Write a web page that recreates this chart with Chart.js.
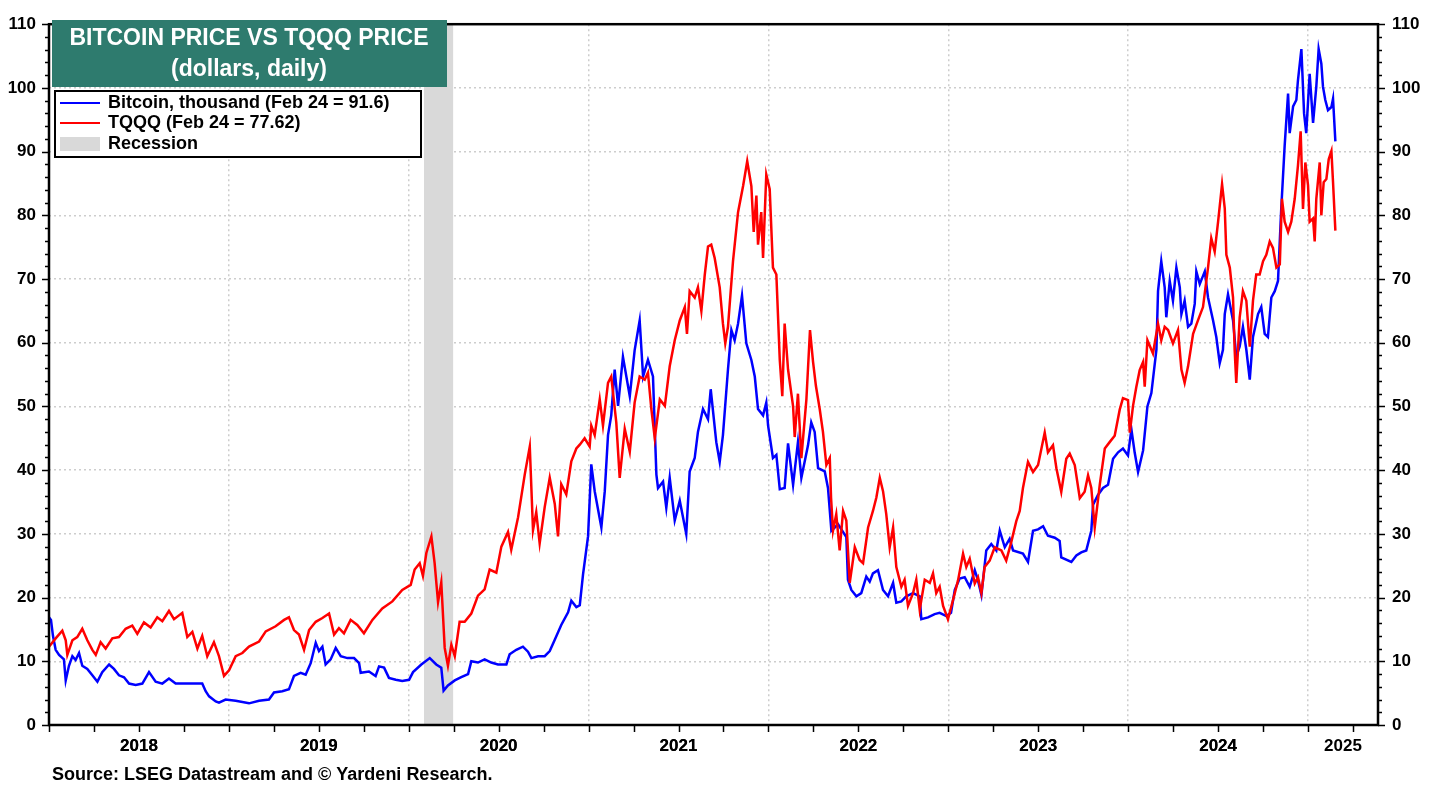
<!DOCTYPE html>
<html>
<head>
<meta charset="utf-8">
<script src="https://cdn.jsdelivr.net/npm/chart.js@4.4.1/dist/chart.umd.min.js"></script>
<style>
  html, body { margin: 0; padding: 0; background: #fff; }
  #wrap { width: 1439px; height: 789px; }
</style>
</head>
<body>
<div id="wrap"><canvas id="chart" width="1439" height="789"></canvas></div>
<script>
// dates are decimal years, values in dollars (bitcoin in thousands)
var btcDates = [
  2018.000, 2018.011, 2018.022, 2018.037, 2018.056, 2018.083, 2018.093, 2018.111, 2018.130, 2018.148, 2018.167, 2018.185, 2018.213, 2018.241, 2018.269, 2018.296, 2018.334, 2018.361, 2018.389, 2018.417, 2018.445, 2018.482, 2018.519, 2018.556, 2018.593, 2018.630, 2018.667, 2018.704, 2018.778, 2018.852, 2018.871, 2018.890, 2018.927, 2018.945, 2018.982,
  2019.038, 2019.112, 2019.168, 2019.223, 2019.251, 2019.297, 2019.334, 2019.362, 2019.399, 2019.427, 2019.455, 2019.483, 2019.501, 2019.520, 2019.538, 2019.566, 2019.594, 2019.622, 2019.659, 2019.696, 2019.724, 2019.733, 2019.779, 2019.816, 2019.835, 2019.863, 2019.890, 2019.928, 2019.964,
  2020.002, 2020.024, 2020.070, 2020.117, 2020.153, 2020.181, 2020.194, 2020.218, 2020.256, 2020.292, 2020.330, 2020.348, 2020.385, 2020.422, 2020.459, 2020.496, 2020.543, 2020.561, 2020.598, 2020.635, 2020.663, 2020.682, 2020.719, 2020.756, 2020.784, 2020.812, 2020.848, 2020.886, 2020.904, 2020.932, 2020.951, 2020.969, 2020.997,
  2021.015, 2021.034, 2021.071, 2021.090, 2021.108, 2021.126, 2021.145, 2021.164, 2021.191, 2021.229, 2021.256, 2021.284, 2021.303, 2021.330, 2021.358, 2021.368, 2021.377, 2021.386, 2021.414, 2021.432, 2021.451, 2021.479, 2021.507, 2021.543, 2021.562, 2021.590, 2021.608, 2021.636, 2021.664, 2021.679, 2021.710, 2021.729, 2021.747, 2021.775, 2021.794, 2021.812, 2021.831, 2021.853, 2021.877, 2021.905, 2021.924, 2021.942, 2021.970, 2021.988,
  2021.998, 2022.025, 2022.044, 2022.063, 2022.090, 2022.109, 2022.137, 2022.164, 2022.183, 2022.220, 2022.238, 2022.257, 2022.276, 2022.313, 2022.331, 2022.350, 2022.387, 2022.433, 2022.442, 2022.461, 2022.489, 2022.516, 2022.544, 2022.563, 2022.581, 2022.609, 2022.637, 2022.665, 2022.693, 2022.711, 2022.739, 2022.766, 2022.804, 2022.841, 2022.850, 2022.887, 2022.924, 2022.952, 2022.989,
  2023.015, 2023.036, 2023.063, 2023.091, 2023.119, 2023.147, 2023.165, 2023.184, 2023.211, 2023.239, 2023.267, 2023.286, 2023.314, 2023.341, 2023.360, 2023.415, 2023.443, 2023.471, 2023.499, 2023.527, 2023.554, 2023.592, 2023.619, 2023.628, 2023.684, 2023.712, 2023.739, 2023.767, 2023.795, 2023.805, 2023.832, 2023.860, 2023.888, 2023.916, 2023.944, 2023.971,
  2023.999, 2024.018, 2024.036, 2024.055, 2024.083, 2024.107, 2024.129, 2024.157, 2024.166, 2024.184, 2024.203, 2024.212, 2024.231, 2024.249, 2024.268, 2024.287, 2024.296, 2024.314, 2024.333, 2024.351, 2024.370, 2024.379, 2024.398, 2024.426, 2024.444, 2024.472, 2024.490, 2024.509, 2024.527, 2024.537, 2024.555, 2024.583, 2024.601, 2024.620, 2024.638, 2024.657, 2024.676, 2024.694, 2024.722, 2024.740, 2024.759, 2024.777, 2024.796, 2024.815, 2024.833, 2024.851, 2024.870, 2024.889, 2024.898, 2024.917, 2024.935, 2024.944, 2024.963, 2024.978, 2024.990, 2025.009, 2025.028, 2025.046, 2025.059, 2025.074, 2025.083, 2025.096, 2025.111, 2025.130, 2025.139, 2025.152
];
var btcValues = [
  16.9, 16.5, 14.0, 11.8, 11.0, 10.3, 7.0, 9.3, 10.8, 10.2, 11.3, 9.3, 8.8, 7.8, 6.8, 8.3, 9.5, 8.8, 7.8, 7.5, 6.5, 6.3, 6.5, 8.3, 6.8, 6.5, 7.3, 6.5, 6.5, 6.5, 5.3, 4.5, 3.7, 3.5, 4.0,
  3.8, 3.4, 3.8, 4.0, 5.1, 5.3, 5.6, 7.7, 8.2, 7.9, 9.7, 12.9, 11.6, 12.3, 9.5, 10.3, 12.1, 10.8, 10.5, 10.5, 9.7, 8.2, 8.4, 7.7, 9.2, 9.0, 7.4, 7.1, 6.9,
  7.1, 8.3, 9.5, 10.5, 9.5, 9.0, 5.4, 6.2, 7.0, 7.5, 8.0, 10.0, 9.8, 10.3, 9.8, 9.5, 9.5, 11.1, 11.8, 12.3, 11.5, 10.5, 10.8, 10.8, 11.6, 13.4, 15.7, 17.7, 19.5, 18.5, 18.8, 23.6, 29.6,
  40.9, 36.7, 31.0, 36.7, 45.5, 48.6, 55.8, 50.1, 57.8, 51.6, 58.8, 63.5, 54.7, 57.3, 54.7, 46.5, 39.3, 37.2, 38.2, 34.1, 38.8, 32.1, 35.2, 30.0, 39.8, 41.9, 46.0, 49.6, 48.0, 52.7, 44.4, 41.3, 45.5, 55.8, 62.0, 60.4, 63.0, 67.4, 59.9, 57.3, 54.7, 49.6, 48.6, 50.6,
  47.0, 41.9, 42.4, 37.0, 37.2, 44.2, 37.7, 44.4, 38.8, 43.9, 47.5, 46.0, 40.3, 39.8, 37.2, 30.5, 31.5, 29.5, 22.8, 21.2, 20.2, 20.7, 23.3, 22.5, 23.8, 24.3, 21.2, 20.2, 22.3, 19.2, 19.4, 20.2, 20.7, 20.2, 16.6, 16.9, 17.4, 17.6, 17.1,
  17.6, 21.2, 23.0, 23.2, 21.7, 24.3, 22.7, 20.4, 27.4, 28.4, 27.4, 30.5, 27.9, 29.2, 27.4, 26.9, 25.6, 30.5, 30.7, 31.2, 29.7, 29.4, 28.9, 26.3, 25.6, 26.6, 27.1, 27.4, 30.5, 34.6, 36.1, 37.2, 37.7, 41.8, 42.8, 43.4,
  42.3, 46.4, 42.8, 39.7, 43.1, 50.0, 52.1, 58.9, 68.1, 72.8, 68.7, 64.0, 69.7, 66.6, 71.8, 68.7, 64.5, 66.6, 62.5, 63.0, 66.1, 71.2, 69.2, 71.2, 67.1, 63.5, 60.9, 56.8, 58.9, 64.5, 67.6, 63.5, 57.8, 59.4, 62.5, 58.9, 54.2, 60.9, 64.5, 65.6, 61.4, 60.9, 67.1, 68.1, 69.7, 81.0, 90.9, 99.1, 92.9, 97.1, 98.1, 101.2, 106.1, 96.0, 92.9, 102.2, 94.5, 100.2, 106.1, 103.8, 100.2, 98.1, 96.5, 97.0, 98.3, 91.6
];

var tqqqDates = [
  2018.000, 2018.037, 2018.074, 2018.093, 2018.102, 2018.130, 2018.157, 2018.185, 2018.213, 2018.241, 2018.260, 2018.287, 2018.315, 2018.352, 2018.389, 2018.426, 2018.463, 2018.491, 2018.528, 2018.565, 2018.602, 2018.630, 2018.667, 2018.695, 2018.741, 2018.769, 2018.797, 2018.825, 2018.852, 2018.880, 2018.917, 2018.945, 2018.973,
  2019.001, 2019.038, 2019.075, 2019.112, 2019.168, 2019.205, 2019.260, 2019.307, 2019.334, 2019.362, 2019.390, 2019.418, 2019.446, 2019.483, 2019.520, 2019.557, 2019.585, 2019.612, 2019.640, 2019.677, 2019.714, 2019.751, 2019.798, 2019.853, 2019.909, 2019.964,
  2020.011, 2020.033, 2020.061, 2020.079, 2020.098, 2020.126, 2020.144, 2020.163, 2020.181, 2020.200, 2020.218, 2020.237, 2020.256, 2020.283, 2020.311, 2020.348, 2020.385, 2020.422, 2020.450, 2020.487, 2020.515, 2020.552, 2020.570, 2020.608, 2020.645, 2020.673, 2020.691, 2020.709, 2020.728, 2020.756, 2020.784, 2020.812, 2020.830, 2020.848, 2020.876, 2020.904, 2020.932, 2020.951, 2020.978,
  2021.006, 2021.015, 2021.034, 2021.062, 2021.080, 2021.108, 2021.126, 2021.154, 2021.173, 2021.201, 2021.229, 2021.256, 2021.284, 2021.312, 2021.330, 2021.349, 2021.368, 2021.396, 2021.424, 2021.451, 2021.479, 2021.507, 2021.535, 2021.547, 2021.562, 2021.590, 2021.608, 2021.627, 2021.646, 2021.664, 2021.682, 2021.701, 2021.729, 2021.747, 2021.760, 2021.775, 2021.803, 2021.831, 2021.859, 2021.882, 2021.905, 2021.918, 2021.933, 2021.942, 2021.960, 2021.970, 2021.988,
  2022.007, 2022.025, 2022.044, 2022.063, 2022.077, 2022.090, 2022.109, 2022.137, 2022.146, 2022.164, 2022.183, 2022.211, 2022.231, 2022.248, 2022.264, 2022.285, 2022.303, 2022.322, 2022.341, 2022.348, 2022.359, 2022.377, 2022.396, 2022.415, 2022.433, 2022.452, 2022.480, 2022.507, 2022.526, 2022.554, 2022.581, 2022.600, 2022.619, 2022.637, 2022.655, 2022.674, 2022.693, 2022.711, 2022.739, 2022.757, 2022.776, 2022.804, 2022.822, 2022.841, 2022.869, 2022.897, 2022.915, 2022.933, 2022.952, 2022.971, 2022.998,
  2023.026, 2023.054, 2023.082, 2023.100, 2023.119, 2023.147, 2023.165, 2023.184, 2023.202, 2023.230, 2023.258, 2023.295, 2023.322, 2023.350, 2023.378, 2023.397, 2023.415, 2023.443, 2023.471, 2023.499, 2023.536, 2023.554, 2023.582, 2023.601, 2023.628, 2023.656, 2023.675, 2023.703, 2023.731, 2023.758, 2023.777, 2023.795, 2023.814, 2023.842, 2023.870, 2023.897, 2023.925, 2023.953, 2023.971,
  2023.999, 2024.009, 2024.027, 2024.045, 2024.064, 2024.083, 2024.092, 2024.107, 2024.138, 2024.166, 2024.184, 2024.203, 2024.222, 2024.249, 2024.277, 2024.296, 2024.314, 2024.333, 2024.361, 2024.388, 2024.416, 2024.444, 2024.462, 2024.481, 2024.500, 2024.522, 2024.537, 2024.546, 2024.565, 2024.583, 2024.592, 2024.601, 2024.620, 2024.638, 2024.657, 2024.676, 2024.694, 2024.712, 2024.731, 2024.750, 2024.768, 2024.787, 2024.805, 2024.824, 2024.843, 2024.855, 2024.870, 2024.889, 2024.907, 2024.926, 2024.944, 2024.959, 2024.972, 2024.985, 2025.000, 2025.009, 2025.028, 2025.037, 2025.046, 2025.065, 2025.074, 2025.087, 2025.102, 2025.115, 2025.130, 2025.139, 2025.152
];
var tqqqValues = [
  12.3, 13.6, 14.8, 13.3, 11.0, 13.3, 13.8, 15.1, 13.3, 11.8, 11.0, 13.0, 12.0, 13.6, 13.8, 15.1, 15.6, 14.3, 16.1, 15.3, 16.9, 16.3, 17.9, 16.6, 17.6, 13.8, 14.6, 12.0, 14.0, 10.8, 13.0, 10.8, 7.7,
  8.6, 10.8, 11.3, 12.3, 13.1, 14.7, 15.5, 16.5, 16.9, 14.9, 14.2, 11.8, 14.9, 16.2, 16.8, 17.5, 14.2, 15.2, 14.4, 16.5, 15.7, 14.4, 16.5, 18.3, 19.4, 21.2,
  22.0, 24.4, 25.4, 23.4, 27.0, 29.6, 25.4, 19.3, 22.4, 12.1, 9.3, 12.6, 10.8, 16.2, 16.2, 17.5, 20.3, 21.3, 24.4, 23.9, 28.0, 30.3, 27.5, 32.6, 39.3, 43.7, 30.6, 33.4, 28.5, 34.2, 38.8, 34.7, 29.6, 37.8, 36.2, 41.4, 43.4, 44.0, 45.0,
  43.7, 47.0, 45.5, 51.1, 47.0, 53.7, 54.7, 47.5, 38.8, 46.5, 42.9, 50.6, 54.7, 54.2, 55.3, 49.6, 45.0, 51.1, 50.1, 56.3, 60.4, 63.5, 65.6, 61.4, 68.1, 67.1, 68.7, 65.0, 70.7, 75.1, 75.4, 73.3, 68.7, 63.0, 59.9, 62.5, 72.8, 80.5, 84.6, 88.5, 84.6, 77.4, 83.1, 75.4, 80.5, 73.3, 86.4,
  84.1, 71.8, 70.7, 57.3, 51.6, 63.0, 55.8, 50.0, 45.2, 52.0, 41.9, 51.1, 62.0, 57.0, 53.2, 49.6, 46.0, 40.8, 41.9, 35.7, 30.5, 33.1, 27.4, 33.6, 32.1, 22.3, 27.9, 25.9, 25.4, 31.0, 33.6, 35.7, 38.8, 36.7, 33.1, 27.9, 31.0, 24.8, 21.7, 22.8, 18.7, 20.7, 22.8, 18.1, 22.8, 22.3, 23.8, 20.7, 21.7, 18.7, 16.6,
  19.6, 22.7, 26.9, 24.8, 26.1, 22.2, 23.2, 20.7, 24.8, 25.8, 27.9, 27.4, 25.8, 28.7, 32.0, 33.6, 37.2, 41.3, 39.7, 40.8, 45.9, 42.8, 43.9, 40.3, 36.6, 41.8, 42.6, 40.8, 35.6, 36.6, 39.2, 37.2, 31.0, 37.7, 43.4, 44.4, 45.4, 49.5, 51.3,
  51.0, 45.9, 50.1, 53.0, 55.7, 57.0, 53.1, 60.4, 58.3, 63.0, 60.4, 62.5, 62.0, 59.9, 62.0, 55.8, 53.7, 56.3, 61.4, 63.5, 65.6, 71.8, 76.4, 74.3, 79.0, 84.9, 81.1, 73.8, 71.8, 67.1, 58.9, 53.7, 64.0, 68.1, 66.6, 59.4, 66.6, 70.7, 70.7, 72.8, 73.8, 75.9, 74.9, 71.8, 72.3, 82.6, 79.0, 77.4, 79.0, 82.6, 87.8, 93.2, 81.0, 88.3, 84.7, 79.0, 79.5, 75.9, 82.6, 88.3, 80.0, 85.2, 85.7, 88.8, 90.1, 85.2, 77.6
];

var xTickLabels = ['2018', '2019', '2020', '2021', '2022', '2023', '2024', '2025'];
var yTickValues = [0, 10, 20, 30, 40, 50, 60, 70, 80, 90, 100, 110];
var recessionStart = 2020.085;
var recessionEnd = 2020.247;

var X_MIN = 2018;
var X_MAX = 2025.389;
var FONT = 'Arial, "Liberation Sans", sans-serif';
var GRID = '#cdcdcd';

Chart.defaults.font.family = FONT;
Chart.defaults.color = '#000';

// label positions: middle of each year, or middle of the visible part of the last year
function labelPos(i) {
  var y0 = 2018 + i;
  var y1 = Math.min(y0 + 1, X_MAX);
  return (y0 + y1) / 2;
}
var labelAt = {};
xTickLabels.forEach(function (lab, i) { labelAt[labelPos(i).toFixed(4)] = lab; });

var btcData = btcDates.map(function (d, i) { return { x: d, y: btcValues[i] }; });
var tqqqData = tqqqDates.map(function (d, i) { return { x: d, y: tqqqValues[i] }; });

var decorPlugin = {
  id: 'decor',
  beforeDatasetsDraw: function (chart) {
    var ctx = chart.ctx, a = chart.chartArea, xs = chart.scales.x;
    var x1 = xs.getPixelForValue(recessionStart), x2 = xs.getPixelForValue(recessionEnd);
    ctx.save();
    ctx.fillStyle = '#d9d9d9';
    ctx.fillRect(x1, a.top, x2 - x1, a.bottom - a.top);
    ctx.restore();
  },
  afterDatasetsDraw: function (chart) {
    var ctx = chart.ctx, a = chart.chartArea;
    var xs = chart.scales.x, ys = chart.scales.y;
    ctx.save();
    // frame
    ctx.strokeStyle = '#000';
    ctx.lineWidth = 2.5;
    ctx.strokeRect(a.left, a.top, a.right - a.left, a.bottom - a.top);
    // y tick marks, both sides
    ctx.lineWidth = 1.5;
    ctx.beginPath();
    for (var v = 0; v <= 110; v += 2) {
      var py = Math.round(ys.getPixelForValue(v)) + 0.5;
      var len = v % 10 === 0 ? 7 : 4;
      ctx.moveTo(a.left, py); ctx.lineTo(a.left - len, py);
      ctx.moveTo(a.right, py); ctx.lineTo(a.right + len, py);
    }
    // x tick marks, each quarter
    for (var q = 0; 2018 + q / 4 <= X_MAX; q++) {
      var px = Math.round(xs.getPixelForValue(2018 + q / 4)) + 0.5;
      ctx.moveTo(px, a.bottom); ctx.lineTo(px, a.bottom + 7);
    }
    ctx.stroke();

    // title box
    ctx.fillStyle = '#2e7b6e';
    ctx.fillRect(52, 20, 395, 67);
    ctx.fillStyle = '#fff';
    ctx.font = 'bold 23px ' + FONT;
    ctx.textAlign = 'center';
    ctx.textBaseline = 'middle';
    ctx.fillText('BITCOIN PRICE VS TQQQ PRICE', 249, 39);
    ctx.fillText('(dollars, daily)', 249, 70);

    // legend box
    ctx.fillStyle = '#fff';
    ctx.fillRect(55, 91, 366, 66);
    ctx.strokeStyle = '#000';
    ctx.lineWidth = 2;
    ctx.strokeRect(55, 91, 366, 66);
    ctx.lineWidth = 2;
    ctx.strokeStyle = '#0000ff';
    ctx.beginPath(); ctx.moveTo(60, 103); ctx.lineTo(100, 103); ctx.stroke();
    ctx.strokeStyle = '#ff0000';
    ctx.beginPath(); ctx.moveTo(60, 123); ctx.lineTo(100, 123); ctx.stroke();
    ctx.fillStyle = '#d9d9d9';
    ctx.fillRect(60, 137, 40, 14);
    ctx.fillStyle = '#000';
    ctx.font = 'bold 18px ' + FONT;
    ctx.textAlign = 'left';
    ctx.fillText('Bitcoin, thousand (Feb 24 = 91.6)', 108, 103);
    ctx.fillText('TQQQ (Feb 24 = 77.62)', 108, 123);
    ctx.fillText('Recession', 108, 144);

    // source
    ctx.font = 'bold 18px ' + FONT;
    ctx.fillText('Source: LSEG Datastream and \u00A9 Yardeni Research.', 52, 775);
    ctx.restore();
  }
};

new Chart(document.getElementById('chart'), {
  type: 'line',
  data: {
    datasets: [
      { label: 'TQQQ', data: tqqqData, borderColor: '#ff0000', borderWidth: 2.5, pointRadius: 0, tension: 0, order: 0 },
      { label: 'Bitcoin', data: btcData, borderColor: '#0000ff', borderWidth: 2.5, pointRadius: 0, tension: 0, order: 1 }
    ]
  },
  options: {
    responsive: false,
    animation: false,
    layout: { padding: { top: 17, left: 0, right: 0, bottom: 0 } },
    plugins: { legend: { display: false }, tooltip: { enabled: false }, title: { display: false } },
    scales: {
      x: {
        type: 'linear',
        min: X_MIN,
        max: X_MAX,
        afterBuildTicks: function (scale) {
          var vals = [];
          for (var q = 0; 2018 + q / 4 <= X_MAX; q++) vals.push(2018 + q / 4);
          xTickLabels.forEach(function (lab, i) { vals.push(labelPos(i)); });
          vals.sort(function (a, b) { return a - b; });
          scale.ticks = vals.map(function (v) { return { value: v }; });
        },
        afterFit: function (scale) { scale.height = 64; },
        ticks: {
          autoSkip: false,
          maxRotation: 0,
          padding: 11,
          font: { size: 17, weight: 'bold' },
          callback: function (v) { return labelAt[Number(v).toFixed(4)] || ''; }
        },
        grid: {
          drawTicks: false,
          lineWidth: 1.5,
          color: function (c) {
            var v = c.tick ? c.tick.value : 0;
            return (Number.isInteger(v) && v > 2018) ? GRID : 'rgba(0,0,0,0)';
          }
        },
        border: { display: false, dash: [2, 3] }
      },
      y: {
        position: 'left',
        min: 0,
        max: 110,
        afterBuildTicks: function (scale) {
          scale.ticks = yTickValues.map(function (v) { return { value: v }; });
        },
        afterFit: function (scale) { scale.width = 49; },
        ticks: { padding: 13, font: { size: 17, weight: 'bold' } },
        grid: {
          drawTicks: false,
          lineWidth: 1.5,
          color: function (c) {
            var v = c.tick ? c.tick.value : 0;
            return (v > 0 && v < 110) ? GRID : 'rgba(0,0,0,0)';
          }
        },
        border: { display: false, dash: [2, 3] }
      },
      y2: {
        position: 'right',
        min: 0,
        max: 110,
        afterBuildTicks: function (scale) {
          scale.ticks = yTickValues.map(function (v) { return { value: v }; });
        },
        afterFit: function (scale) { scale.width = 61; },
        ticks: { padding: 14, font: { size: 17, weight: 'bold' } },
        grid: { display: false, drawTicks: false },
        border: { display: false }
      }
    }
  },
  plugins: [decorPlugin]
});
</script>
</body>
</html>
